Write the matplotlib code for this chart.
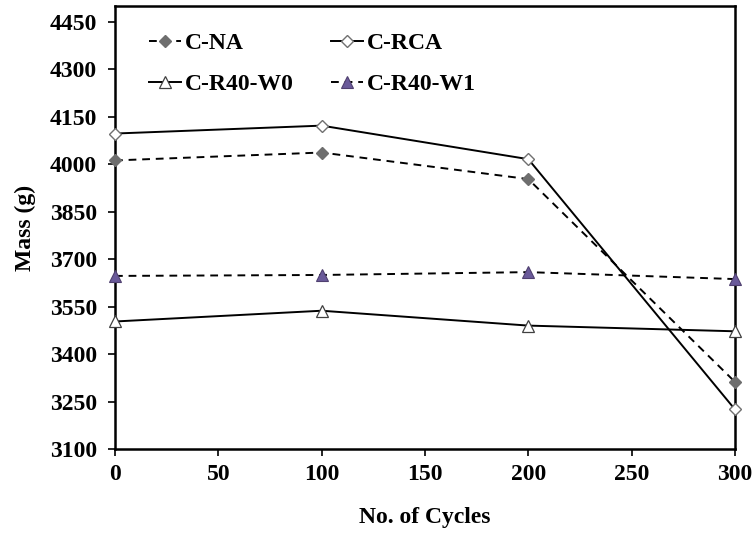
import matplotlib
matplotlib.use("Agg")
import matplotlib.pyplot as plt

cycles = [0, 100, 200, 300]
c_na = [4012, 4037, 3953, 3312]
c_rca = [4097, 4122, 4016, 3225]
c_r40_w0 = [3503, 3537, 3490, 3472]
c_r40_w1 = [3647, 3650, 3659, 3637]
yticks = [3100, 3250, 3400, 3550, 3700, 3850, 4000, 4150, 4300, 4450]
xticks = [0, 50, 100, 150, 200, 250, 300]

plt.rcParams['font.family'] = ['Liberation Serif', 'DejaVu Serif']
plt.rcParams['font.weight'] = 'bold'

fig = plt.figure(figsize=(7.56, 5.33), dpi=100)
ax = fig.add_axes([0.1521, 0.1576, 0.8201, 0.8311])

h_na, = ax.plot(cycles, c_na, color='black', linestyle=(0, (4, 3)), lw=1.4,
        marker='D', ms=6.5, mfc='#6e6e6e', mec='#6e6e6e', label='C-NA', clip_on=False, zorder=3)
h_rca, = ax.plot(cycles, c_rca, color='black', linestyle='-', lw=1.4,
        marker='D', ms=6.5, mfc='white', mec='#707070', label='C-RCA', clip_on=False, zorder=3)
h_w0, = ax.plot(cycles, c_r40_w0, color='black', linestyle='-', lw=1.4,
        marker='^', ms=8.5, mfc='white', mec='#404040', mew=0.9, label='C-R40-W0', clip_on=False, zorder=3)
h_w1, = ax.plot(cycles, c_r40_w1, color='black', linestyle=(0, (4, 3)), lw=1.4,
        marker='^', ms=8.5, mfc='#6a5a9a', mec='#504070', mew=0.8, label='C-R40-W1', clip_on=False, zorder=3)

ax.set_xlim(0, 300)
ax.set_ylim(3100, 4500)
ax.set_xticks(xticks)
ax.set_yticks(yticks)
ax.tick_params(direction='out', length=5, width=1.2, labelsize=17, pad=6)
ax.tick_params(axis='y', pad=8)
for lab in ax.get_xticklabels() + ax.get_yticklabels():
    lab.set_fontweight('bold')
for s in ax.spines.values():
    s.set_linewidth(1.8)

ax.set_xlabel('No. of Cycles', fontsize=17, fontweight='bold', labelpad=16)
ax.set_ylabel('Mass (g)', fontsize=17, fontweight='bold', labelpad=10)

leg = ax.legend([h_na, h_w0, h_rca, h_w1], ['C-NA', 'C-R40-W0', 'C-RCA', 'C-R40-W1'],
                ncol=2, loc='upper left', bbox_to_anchor=(0.055, 0.94), frameon=False,
                handlelength=1.35, handletextpad=0.15, columnspacing=1.6,
                labelspacing=0.83, borderpad=0, borderaxespad=0,
                prop={'weight': 'bold', 'size': 17})

fig.savefig('out.png', dpi=100)
